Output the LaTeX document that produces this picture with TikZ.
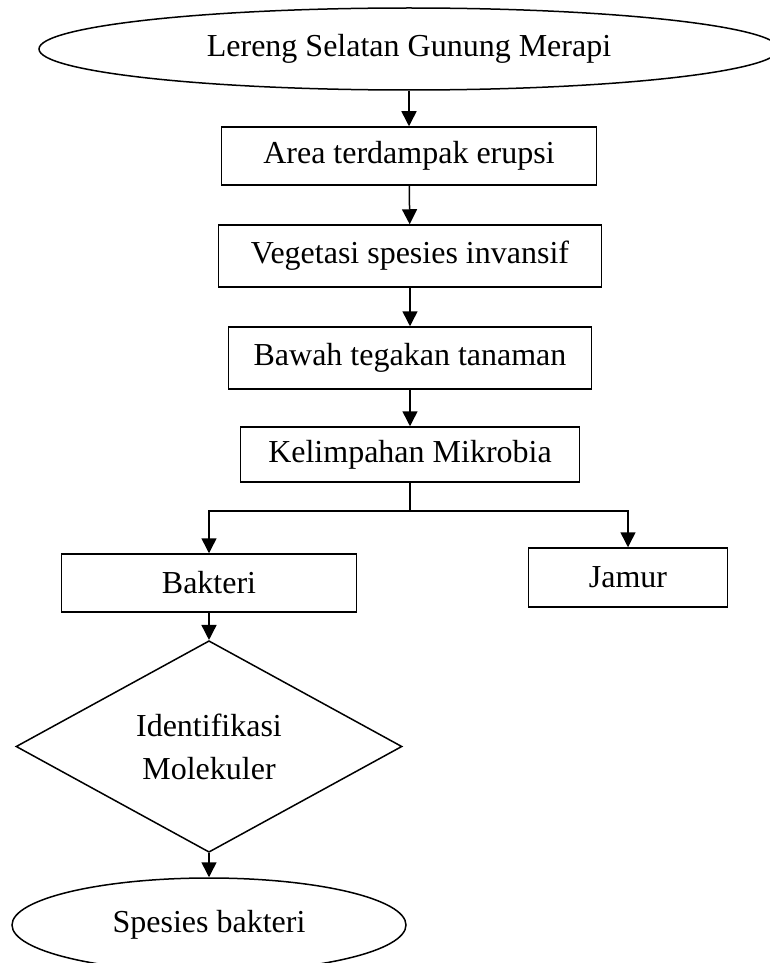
\documentclass[tikz,border=0pt]{standalone}
\usepackage{fontspec}
\setmainfont{Liberation Serif}
\usetikzlibrary{arrows.meta,positioning,shapes.geometric}

\begin{document}
\begin{tikzpicture}[x=1pt,y=-1pt,line width=1.5pt,
  every node/.style={font=\fontsize{32}{43}\selectfont,inner sep=0pt},
  box/.style={draw,rectangle},
  oval/.style={draw,ellipse},
  decide/.style={draw,diamond,align=center},
  arr/.style={-{Triangle[length=15pt,width=15pt]}}]
  \useasboundingbox (0,0) rectangle (770,963);
  % main chain
  \node[oval,minimum width=740pt,minimum height=82pt] (lereng) at (409,49) {Lereng Selatan Gunung Merapi};
  \node[box,minimum width=375pt,minimum height=58pt] (area) at (409,156) {Area terdampak erupsi};
  \node[box,minimum width=383pt,minimum height=62pt] (vegetasi) at (410,256) {Vegetasi spesies invansif};
  \node[box,minimum width=363pt,minimum height=62pt] (bawah) at (410,358) {Bawah tegakan tanaman};
  \node[box,minimum width=339pt,minimum height=55pt] (kelimpahan) at (410,454.5) {Kelimpahan Mikrobia};
  % branches
  \node[box,minimum width=295pt,minimum height=58pt] (bakteri) at (209,583) {Bakteri};
  \node[box,minimum width=199pt,minimum height=59pt] (jamur) at (628,577.5) {Jamur};
  \node[decide,minimum width=386pt,minimum height=191pt] (identifikasi) at (209,746.5) {Identifikasi\\Molekuler};
  \node[oval,minimum width=394pt,minimum height=94pt] (spesies) at (209,925) {Spesies bakteri};
  \coordinate (split) at (410,511);

  \draw[arr] (lereng) -- (area);
  \draw[arr] (area) -- (vegetasi);
  \draw[arr] (vegetasi) -- (bawah);
  \draw[arr] (bawah) -- (kelimpahan);
  \draw (kelimpahan) -- (split);
  \draw[arr] (split) -| (bakteri);
  \draw[arr] (split) -| (jamur);
  \draw[arr] (bakteri) -- (identifikasi);
  \draw[arr] (identifikasi) -- (spesies);
\end{tikzpicture}
\end{document}
